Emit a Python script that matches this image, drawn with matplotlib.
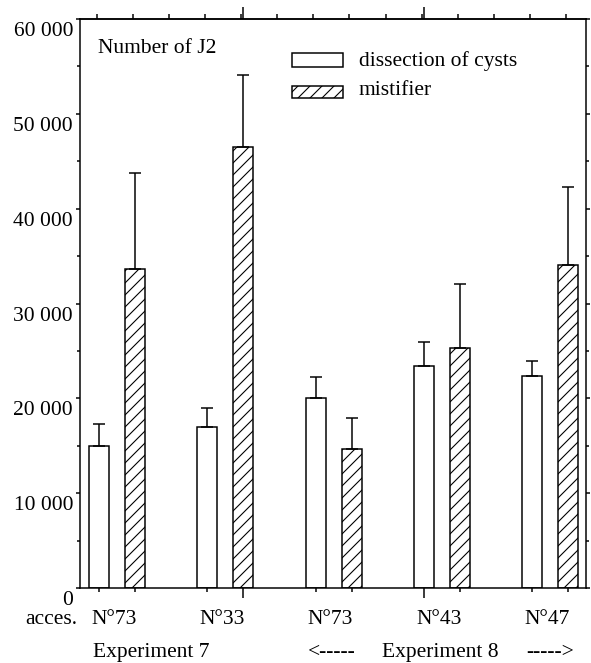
import matplotlib
matplotlib.use("Agg")
import matplotlib.pyplot as plt
from matplotlib.patches import Rectangle
from matplotlib.transforms import ScaledTranslation
import numpy as np

# rendered at 144 dpi; sizes below are given in pixels and converted with P
DPI = 144
P = 72 / DPI  # points per pixel

plt.rcParams["font.family"] = ["Liberation Serif", "DejaVu Serif"]
plt.rcParams["hatch.linewidth"] = 1.1 * P

ACCESSIONS = ["N°73", "N°33", "N°73", "N°43", "N°47"]
DISSECTION = [15000, 17000, 20000, 23400, 22400]
DISSECTION_ERR = [2300, 2000, 2250, 2550, 1550]
MISTIFIER = [33650, 46500, 14700, 25300, 34070]
MISTIFIER_ERR = [10150, 7600, 3200, 6770, 8260]
Y_TICKS = [0, 10000, 20000, 30000, 40000, 50000, 60000]
Y_TICK_LABELS = ["0", "10 000", "20 000", "30 000", "40 000", "50 000", "60 000"]

FS = 21.5 * P
LW = 1.5 * P
HATCH = "////"
OFFSET = 0.166
WIDTH = 0.185

fig = plt.figure(figsize=(591 / DPI, 663 / DPI), dpi=DPI)
ax = fig.add_axes([0.1354, 0.1131, 0.8561, 0.8582])

x = np.arange(len(ACCESSIONS))
err_kw = dict(ecolor="black", elinewidth=LW, capsize=6 * P, capthick=LW)
ax.bar(x - OFFSET, DISSECTION, WIDTH, color="white", edgecolor="black",
       linewidth=LW, yerr=[np.zeros(len(x)), DISSECTION_ERR], error_kw=err_kw)
ax.bar(x + OFFSET, MISTIFIER, WIDTH, color="white", edgecolor="black",
       linewidth=LW, hatch=HATCH, yerr=[np.zeros(len(x)), MISTIFIER_ERR],
       error_kw=err_kw)

ax.set_xlim(-0.341, 4.33)
ax.set_ylim(0, 60000)
for side in ["left", "right", "top", "bottom"]:
    ax.spines[side].set_linewidth(LW)

# y axis: short outward ticks on both sides, labels sit below their tick
ax.set_yticks(Y_TICKS)
ax.set_yticklabels(Y_TICK_LABELS, fontsize=FS)
ax.set_yticks(np.arange(5000, 60000, 10000), minor=True)
ax.tick_params(axis="y", which="major", direction="out", length=4 * P,
               width=LW, right=True, pad=3 * P)
ax.tick_params(axis="y", which="minor", direction="out", length=3 * P,
               width=LW, right=True)
shift = ScaledTranslation(0, -10 / DPI, fig.dpi_scale_trans)
for lab in ax.get_yticklabels():
    lab.set_transform(lab.get_transform() + shift)

# x axis: ticks at bar centres, no tick labels
centres = np.sort(np.concatenate([x - OFFSET, x + OFFSET]))
ax.set_xticks([1 + OFFSET, 3 - OFFSET])
ax.set_xticklabels([])
ax.set_xticks(centres, minor=True)
ax.tick_params(axis="x", which="major", direction="out", length=10 * P,
               width=LW)
ax.tick_params(axis="x", which="minor", direction="out", length=4 * P,
               width=LW)

top = ax.secondary_xaxis("top")
top.set_xticks([1 + OFFSET, 3 - OFFSET])
top.set_xticks(np.arange(-1 / 6 - 0.02, 4.3, 1 / 3), minor=True)
top.set_xticklabels([])
top.tick_params(which="major", direction="out", length=12 * P, width=LW)
top.tick_params(which="minor", direction="out", length=5 * P, width=LW)
top.spines["top"].set_linewidth(LW)

# category labels below the axis
trans = ax.get_xaxis_transform()
for xi, name in zip(x, ACCESSIONS):
    ax.text(xi - 0.03, -0.055, name, transform=trans, ha="center", va="center",
            fontsize=FS)
ax.text(-0.604, -0.055, "acces.", transform=trans, ha="center", va="center",
        fontsize=FS)
ax.text(0.32, -0.113, "Experiment 7", transform=trans, ha="center",
        va="center", fontsize=FS)
ax.text(1.979, -0.113, "<-----", transform=trans, ha="center", va="center",
        fontsize=FS)
ax.text(2.984, -0.113, "Experiment 8", transform=trans, ha="center",
        va="center", fontsize=FS)
ax.text(4.0, -0.113, "----->", transform=trans, ha="center", va="center",
        fontsize=FS)

# inner title and legend
ax.text(0.036, 0.949, "Number of J2", transform=ax.transAxes, ha="left",
        va="center", fontsize=FS)
ax.add_patch(Rectangle((0.419, 0.915), 0.101, 0.026, transform=ax.transAxes,
                       facecolor="white", edgecolor="black", linewidth=LW))
ax.add_patch(Rectangle((0.419, 0.861), 0.101, 0.022, transform=ax.transAxes,
                       facecolor="white", edgecolor="black", linewidth=LW,
                       hatch=HATCH))
ax.text(0.551, 0.926, "dissection of cysts", transform=ax.transAxes,
        ha="left", va="center", fontsize=FS)
ax.text(0.551, 0.874, "mistifier", transform=ax.transAxes, ha="left",
        va="center", fontsize=FS)

fig.savefig("out.png", dpi=DPI)
